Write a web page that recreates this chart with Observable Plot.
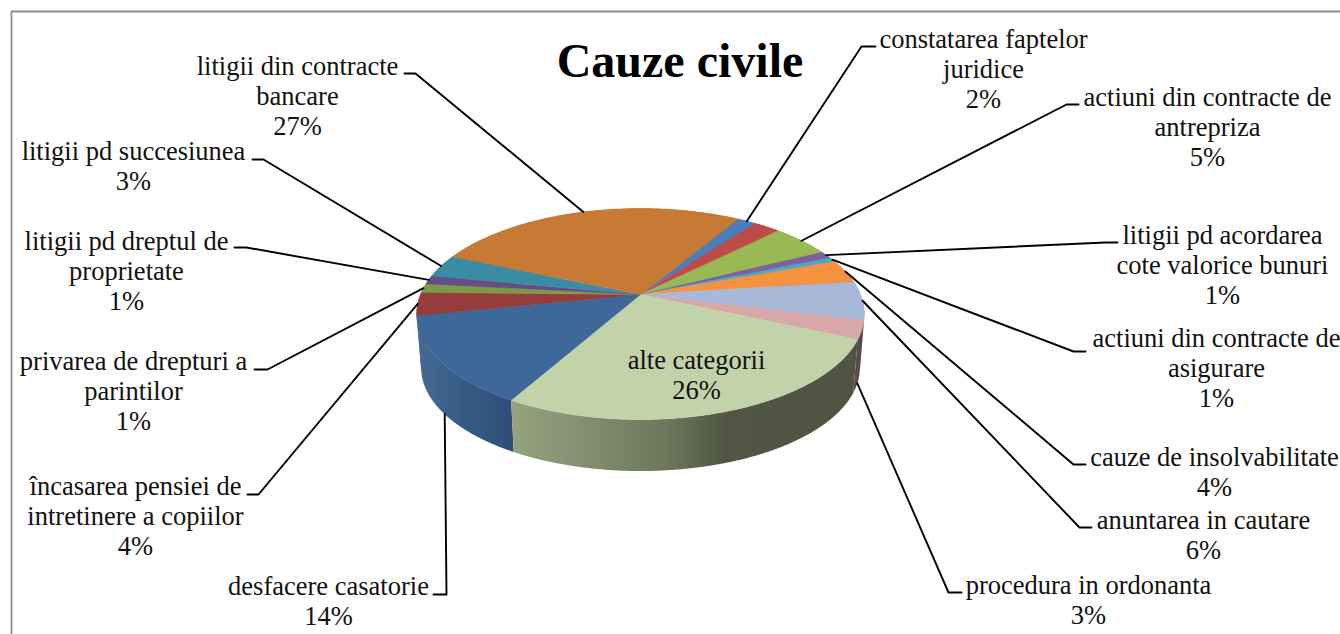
<!DOCTYPE html>
<html>
<head>
<meta charset="utf-8">
<style>html,body{margin:0;padding:0;background:#fff}svg{display:block}</style>
<script src="https://cdn.jsdelivr.net/npm/d3@7"></script>
<script src="https://cdn.jsdelivr.net/npm/@observablehq/plot@0.6"></script>
</head>
<body>
<div id="chart"></div>
<script>
// ---- chart content ----
const title = "Cauze civile";
const categories = [
  "constatarea faptelor\njuridice", "", "actiuni din contracte de\nantrepriza",
  "litigii pd acordarea\ncote valorice bunuri", "actiuni din contracte de\nasigurare",
  "cauze de insolvabilitate", "anuntarea in cautare", "procedura in ordonanta",
  "alte categorii", "desfacere casatorie", "încasarea pensiei de\nintretinere a copiilor",
  "privarea de drepturi a\nparintilor", "litigii pd dreptul de\nproprietate",
  "litigii pd succesiunea", "litigii din contracte\nbancare"
];
const printedPercents = ["2%","","5%","1%","1%","4%","6%","3%","26%","14%","4%","1%","1%","3%","27%"];
// slice sizes
const shares = [1.6,2.3,5.1,1.1,0.7,3.6,5.9,2.8,26.5,13.6,3.5,1.4,1.3,3.5,27.1];
const topColors = ["#4a7ebb","#be4b48","#98b954","#7d60a0","#46aac5","#f59240","#a7b8d8","#d8a7a7","#c3d3a9","#3e6899","#963c3a","#7d9a48","#664d85","#3a8ca4","#c77a36"];
const wallColors = ["#3a6394","#973b39","#78923f","#624a7e","#37869b","#c17232","#82919f","#5a4a4a","url(#wallGreen)","url(#wallBlue)","#41668f","#617838","#4f3c68","#2d6d80","#9b5f2a"];
const wallGreenStops = [[0,"#97a380"],[0.45,"#6c775c"],[0.62,"#505642"],[1,"#4f5542"]];
const wallBlueStops = [[0,"#466b95"],[0.5,"#375a85"],[1,"#2e4e78"]];

// ---- layout ----
const startAngle = 31, cx = 640, cy = 294, R = 220, A = 101.9, k = 0.185, drop = 54, lowScale = 0.98;
const fs = 26.5, lh = 30.5;
const labelX = [983,0,1207,1222,1216,1214,1203,1088,696,328,135,133,126,133,297];
const labelBase = [47,0,105,243,346,465,528,593,368,594,494,369,249,159,74];
// leader: [outer end x, elbow x, y, attach to lower rim?]
const leaders = [
  [875,861,46,0], null, [1078,1066,104,0], [1117,1105,242,0], [1085,1073,351,0],
  [1085,1073,464,0], [1091,1079,527,0], [961,948,592,1], null, [433,446,594,1],
  [247,258,494,0], [254,267,369,0], [234,246,247,0], [252,263,159,0], [404,415,73,0]
];

// ---- geometry ----
const total = d3.sum(shares);
function rim(theta, lower) {
  const t = theta * Math.PI / 180, u = Math.sin(t), v = -Math.cos(t), s = 1 / (1 - k * v);
  const m = lower ? lowScale : 1;
  return {x: cx + m * R * u * s, y: cy + (lower ? drop : 0) + m * A * v * s};
}
let acc = startAngle;
const slices = shares.map((d, i) => {
  const a0 = acc, a1 = acc + d / total * 360; acc = a1;
  return {i, a0, a1, mid: (a0 + a1) / 2};
});
function arc(a0, a1, lower) {
  const n = Math.max(2, Math.ceil((a1 - a0) * 2));
  return d3.range(n + 1).map(j => rim(a0 + (a1 - a0) * j / n, lower));
}
const defsMark = () => {
  const defs = d3.create("svg:defs");
  for (const [id, stops] of [["wallGreen", wallGreenStops], ["wallBlue", wallBlueStops]]) {
    const g = defs.append("linearGradient").attr("id", id).attr("x1", 0).attr("x2", 1).attr("y1", 0).attr("y2", 0);
    for (const [o, c] of stops) g.append("stop").attr("offset", o).attr("stop-color", c);
  }
  return defs.node();
};
// walls are drawn back to front, so the front slices cover the ones behind them
const wallMarks = d3.sort(slices, s => -Math.cos(s.mid * Math.PI / 180)).map(s => {
  const pts = [...arc(s.a0, s.a1, false), ...arc(s.a0, s.a1, true).reverse()];
  return Plot.line(pts, {x: "x", y: "y", fill: wallColors[s.i], stroke: "none"});
});
const topMarks = slices.map(s => {
  const pts = [{x: cx, y: cy}, ...arc(s.a0, s.a1, false), {x: cx, y: cy}];
  return Plot.line(pts, {x: "x", y: "y", fill: topColors[s.i], stroke: topColors[s.i], strokeWidth: 0.5});
});
const leaderMarks = slices.filter(s => leaders[s.i]).map(s => {
  const [x0, x1, y, low] = leaders[s.i];
  return Plot.line([{x: x0, y}, {x: x1, y}, rim(s.mid, !!low)], {x: "x", y: "y", stroke: "#000", strokeWidth: 1.9});
});
const labels = slices.filter(s => categories[s.i]).map(s => ({
  x: labelX[s.i], y: labelBase[s.i] - 0.71 * lh,
  text: categories[s.i] + "\n" + printedPercents[s.i]
}));

const chart = Plot.plot({
  width: 1340, height: 634, margin: 0,
  x: {domain: [0, 1340], range: [0, 1340], axis: null},
  y: {domain: [0, 634], range: [0, 634], axis: null},
  marks: [
    defsMark,
    Plot.ruleX([11], {y1: 11, y2: 634, stroke: "#8c8c8c", strokeWidth: 1.8}),
    Plot.ruleY([11], {x1: 11, x2: 1340, stroke: "#8c8c8c", strokeWidth: 1.8}),
    ...wallMarks,
    ...topMarks,
    ...leaderMarks,
    Plot.text(labels, {x: "x", y: "y", text: "text", lineAnchor: "top", lineHeight: lh / fs,
      fontFamily: "Liberation Serif", fontSize: fs, fill: "#111"}),
    Plot.text([title], {x: () => 679.5, y: () => 76 - 0.71 * 48, text: d => d, lineAnchor: "top",
      fontFamily: "Liberation Serif", fontSize: 48, fontWeight: "bold", fill: "#000"})
  ]
});
document.getElementById("chart").append(chart);
</script>
</body>
</html>
